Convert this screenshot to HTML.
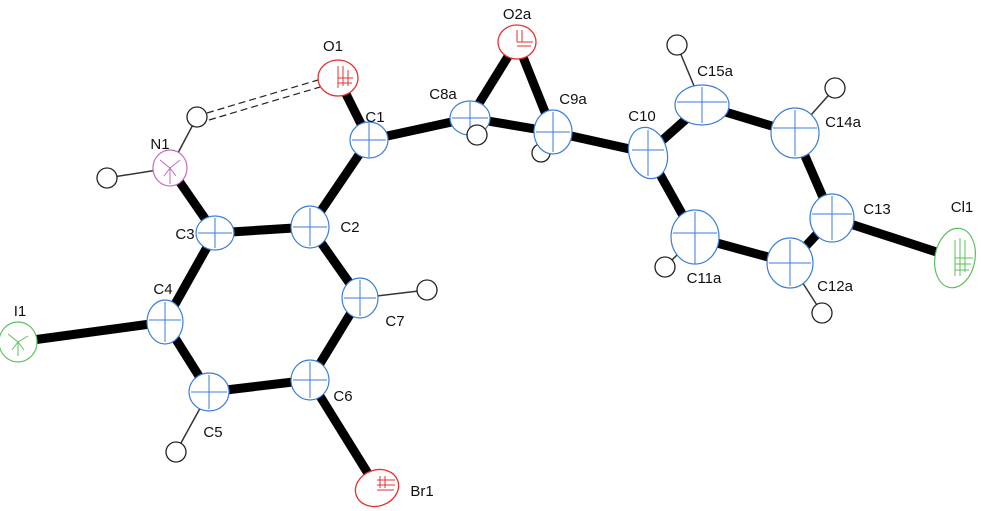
<!DOCTYPE html>
<html><head><style>html,body{margin:0;padding:0;background:#fff}svg{display:block}text{font-family:"Liberation Sans",sans-serif;font-size:15px;fill:#111;text-anchor:middle;dominant-baseline:middle}</style></head><body>
<svg width="981" height="511" viewBox="0 0 981 511" xmlns="http://www.w3.org/2000/svg">
<g stroke="#000" stroke-width="9" stroke-linecap="butt">
<line x1="338" y1="78" x2="369" y2="140"/>
<line x1="369" y1="140" x2="470" y2="118"/>
<line x1="470" y1="118" x2="517" y2="42"/>
<line x1="517" y1="42" x2="553" y2="132"/>
<line x1="470" y1="118" x2="553" y2="132"/>
<line x1="553" y1="132" x2="648" y2="153"/>
<line x1="648" y1="153" x2="702" y2="105"/>
<line x1="702" y1="105" x2="795" y2="133"/>
<line x1="795" y1="133" x2="832" y2="218"/>
<line x1="832" y1="218" x2="790" y2="263"/>
<line x1="790" y1="263" x2="695" y2="237"/>
<line x1="695" y1="237" x2="648" y2="153"/>
<line x1="832" y1="218" x2="955" y2="258"/>
<line x1="369" y1="140" x2="310" y2="227"/>
<line x1="310" y1="227" x2="215" y2="233"/>
<line x1="215" y1="233" x2="170" y2="168"/>
<line x1="215" y1="233" x2="165" y2="322"/>
<line x1="165" y1="322" x2="18" y2="342"/>
<line x1="165" y1="322" x2="209" y2="392"/>
<line x1="209" y1="392" x2="310" y2="380"/>
<line x1="310" y1="380" x2="360" y2="298"/>
<line x1="360" y1="298" x2="310" y2="227"/>
<line x1="310" y1="380" x2="377" y2="488"/>
</g>
<g stroke="#333" stroke-width="1.5">
<line x1="170" y1="168" x2="197" y2="117"/>
<line x1="170" y1="168" x2="107" y2="178"/>
<line x1="702" y1="105" x2="677" y2="45"/>
<line x1="795" y1="133" x2="835" y2="88"/>
<line x1="695" y1="237" x2="665" y2="267"/>
<line x1="790" y1="263" x2="822" y2="313"/>
<line x1="360" y1="298" x2="427" y2="290"/>
<line x1="209" y1="392" x2="176" y2="452"/>
<line x1="553" y1="132" x2="541" y2="153"/>
</g>
<g stroke="#222" stroke-width="1.2" stroke-dasharray="7,4">
<line x1="207" y1="113" x2="318" y2="80"/>
<line x1="209" y1="120" x2="320" y2="87"/>
</g>
<g fill="#fff" stroke="#222" stroke-width="1.3">
<circle cx="197" cy="117" r="10"/><circle cx="107" cy="178" r="10"/>
<circle cx="677" cy="45" r="10"/><circle cx="835" cy="88" r="10"/>
<circle cx="665" cy="267" r="10"/><circle cx="822" cy="313" r="10"/>
<circle cx="427" cy="290" r="10"/><circle cx="176" cy="452" r="10"/>
<circle cx="541" cy="153" r="9"/>
</g>
<g fill="#fff" stroke="#3b7dd8" stroke-width="1.2">
<ellipse cx="369" cy="140" rx="19" ry="18"/>
<ellipse cx="470" cy="118" rx="20" ry="17"/>
<ellipse cx="553" cy="132" rx="19" ry="22"/>
<ellipse cx="648" cy="153" rx="19" ry="26" transform="rotate(-15 648 153)"/>
<ellipse cx="702" cy="105" rx="27" ry="20"/>
<ellipse cx="795" cy="133" rx="24" ry="25"/>
<ellipse cx="832" cy="218" rx="22" ry="24"/>
<ellipse cx="790" cy="263" rx="23" ry="25"/>
<ellipse cx="695" cy="237" rx="24" ry="27"/>
<ellipse cx="310" cy="227" rx="19" ry="21"/>
<ellipse cx="215" cy="233" rx="19" ry="17"/>
<ellipse cx="165" cy="322" rx="18" ry="22"/>
<ellipse cx="209" cy="392" rx="20" ry="19"/>
<ellipse cx="310" cy="380" rx="19" ry="20"/>
<ellipse cx="360" cy="298" rx="18" ry="20"/>
</g>
<g stroke="#3b7dd8" stroke-width="1" fill="none">
<path d="M352 140h34M369 123v34M452 118h36M470 102v32M536 132h34M553 112v40M632 150h32M648 130v46M677 102h50M702 87v36M773 128h44M795 110v46M812 214h40M832 196v44M769 263h42M790 240v46M673 233h44M695 212v52M293 227h34M310 208v38M198 233h34M215 218v30M149 320h32M165 302v40M191 392h36M209 375v34M293 380h34M310 362v36M344 298h32M360 280v36"/>
</g>
<g fill="#fff" stroke="#e53030" stroke-width="1.3">
<ellipse cx="338" cy="78" rx="20" ry="18"/>
<ellipse cx="517" cy="42" rx="19" ry="17"/>
<ellipse cx="377" cy="488" rx="22" ry="18" transform="rotate(-20 377 488)"/>
</g>
<g stroke="#e53030" stroke-width="1" fill="none">
<path d="M338 66v22M343 66v20M348 70v16M338 78h15M338 83h14M517 30v12M522 30v12M517 42h16M517 46h14M377 480h18M377 485h18M377 490h17M380 476v12M385 476v12"/>
</g>
<g fill="#fff" stroke="#5cc05c" stroke-width="1.2">
<ellipse cx="955" cy="258" rx="20" ry="30" transform="rotate(10 955 258)"/>
<ellipse cx="18" cy="342" rx="19" ry="20"/>
</g>
<g stroke="#5cc05c" stroke-width="1" fill="none">
<path d="M955 240v36M960 238v38M965 240v32M955 258h18M955 264h16M955 270h14M8 334L18 342L28 336M18 342v14M12 350L18 342M24 350L18 342"/>
</g>
<ellipse cx="170" cy="168" rx="17" ry="18" fill="#fff" stroke="#c06cc0" stroke-width="1.2"/>
<path d="M160 160l10 8 10-8M170 168v16M164 176l6-8M176 176l-6-8" stroke="#c06cc0" stroke-width="1" fill="none"/>
<circle cx="477" cy="135" r="10" fill="#fff" stroke="#222" stroke-width="1.3"/>
<text x="333" y="47">O1</text><text x="375" y="118">C1</text><text x="443" y="95">C8a</text>
<text x="517" y="15">O2a</text><text x="573" y="100">C9a</text><text x="642" y="117">C10</text>
<text x="715" y="72">C15a</text><text x="843" y="123">C14a</text><text x="877" y="210">C13</text>
<text x="962" y="208">Cl1</text><text x="704" y="279">C11a</text><text x="835" y="287">C12a</text>
<text x="160" y="145">N1</text><text x="350" y="228">C2</text><text x="185" y="235">C3</text>
<text x="163" y="290">C4</text><text x="20" y="312">I1</text><text x="395" y="322">C7</text>
<text x="343" y="397">C6</text><text x="213" y="433">C5</text><text x="422" y="492">Br1</text>
</svg>
</body></html>
